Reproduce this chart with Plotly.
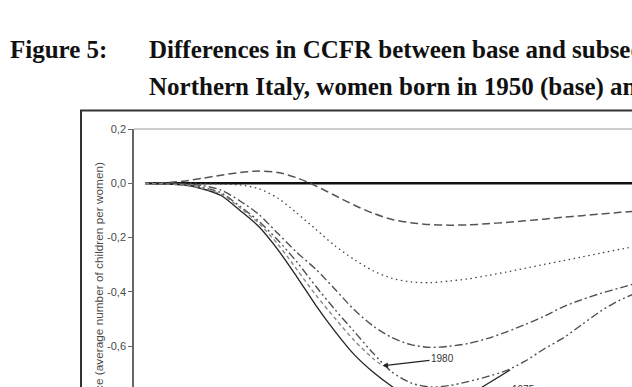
import plotly.graph_objects as go

# ---------------- data ----------------
ages = [15, 16, 17, 18, 19, 20, 21, 22, 23, 24, 25, 26, 27, 28, 29, 30,
        31, 32, 33, 34, 35, 36, 37, 38, 39, 40, 41]

base_1950 = [0.0] * len(ages)

c1955 = [0.0, 0.002, 0.008, 0.018, 0.030, 0.040, 0.045, 0.040, 0.020, -0.010,
         -0.045, -0.080, -0.110, -0.133, -0.145, -0.152, -0.154, -0.153, -0.149,
         -0.144, -0.138, -0.132, -0.125, -0.119, -0.113, -0.107, -0.102]

c1960 = [0.0, 0.0, 0.0, -0.001, -0.003, -0.006, -0.020, -0.055, -0.110, -0.170,
         -0.230, -0.280, -0.322, -0.350, -0.363, -0.366, -0.360, -0.352, -0.340,
         -0.327, -0.313, -0.299, -0.285, -0.271, -0.257, -0.243, -0.229]

c1965 = [0.0, 0.0, -0.002, -0.008, -0.025, -0.065, -0.115, -0.185, -0.255, -0.317,
         -0.390, -0.465, -0.525, -0.568, -0.594, -0.604, -0.600, -0.590, -0.572,
         -0.548, -0.520, -0.490, -0.455, -0.428, -0.405, -0.385, -0.365]

c1970 = [0.0, -0.001, -0.004, -0.015, -0.035, -0.085, -0.140, -0.210, -0.290, -0.380,
         -0.465, -0.545, -0.625, -0.695, -0.735, -0.750, -0.745, -0.730, -0.712,
         -0.690, -0.655, -0.610, -0.570, -0.520, -0.470, -0.430, -0.400]

ages_1975 = [15, 16, 17, 18, 19, 20, 21, 22, 23, 24, 25, 26, 27, 28, 29, 30]
c1975 = [0.0, -0.002, -0.006, -0.020, -0.045, -0.100, -0.160, -0.245, -0.345,
         -0.450, -0.545, -0.630, -0.695, -0.748, -0.790, -0.820]

ages_1980 = [15, 16, 17, 18, 19, 20, 21, 22, 23, 24, 25, 26, 27, 27.5]
c1980 = [0.0, -0.002, -0.006, -0.018, -0.040, -0.090, -0.148, -0.225, -0.318,
         -0.412, -0.497, -0.578, -0.645, -0.672]

ytick_vals = [0.2, 0.0, -0.2, -0.4, -0.6]
ytick_text = ["0,2", "0,0", "-0,2", "-0,4", "-0,6"]

title_1 = "Figure 5:"
title_2a = "Differences in CCFR between base and subsequent cohorts,"
title_2b = "Northern Italy, women born in 1950 (base) and later"
ytitle = "Difference (average number of children per women)"

# ---------------- layout geometry ----------------
W, H = 632, 387
ML, MT = 134, 129
PW, PH = W - ML, H - MT


def px_x(px):
    return (px - ML) / PW


def px_y(py):
    return (H - py) / PH


fig = go.Figure()

series = [
    (ages, base_1950, dict(color="#111111", width=2.6, dash="solid")),
    (ages, c1955, dict(color="#555555", width=1.5, dash="8px,4px")),
    (ages, c1960, dict(color="#444444", width=1.3, dash="1.5px,3.5px")),
    (ages, c1965, dict(color="#505050", width=1.4, dash="8px,3px,2px,3px")),
    (ages, c1970, dict(color="#505050", width=1.4, dash="8px,3px,2px,3px,2px,3px")),
    (ages_1975, c1975, dict(color="#222222", width=1.3, dash="solid")),
    (ages_1980, c1980, dict(color="#888888", width=1.4, dash="4px,3px")),
]
names = ["1950", "1955", "1960", "1965", "1970", "1975", "1980"]
for (xs, ys, ln), nm in zip(series, names):
    fig.add_trace(go.Scatter(x=xs, y=ys, mode="lines", name=nm,
                             line=dict(shape="spline", smoothing=0.8, **ln),
                             showlegend=False, hoverinfo="skip"))

fig.update_layout(
    width=W, height=H,
    margin=dict(l=ML, r=0, t=MT, b=0, pad=0),
    paper_bgcolor="white", plot_bgcolor="white",
    font=dict(family="Liberation Sans, Arial", color="#444444"),
    xaxis=dict(range=[14.421, 40.632], showgrid=False, zeroline=False,
               showticklabels=False, ticks="", showline=False),
    yaxis=dict(range=[-0.75, 0.2], showgrid=False, zeroline=False,
               tickvals=ytick_vals, ticktext=ytick_text, ticks="outside",
               ticklen=4, tickcolor="#666666", tickwidth=1,
               tickfont=dict(size=11, color="#4a4a4a", family="Liberation Sans, Arial"),
               showline=True, linecolor="#666666", linewidth=1.5),
)

# outer frame and top border of plotting area
fig.add_shape(type="rect", xref="paper", yref="paper",
              x0=px_x(81), y0=px_y(400), x1=px_x(650), y1=px_y(110.5),
              line=dict(color="#333333", width=2), fillcolor="rgba(0,0,0,0)", layer="above")
fig.add_shape(type="line", xref="paper", yref="paper",
              x0=0, y0=1, x1=px_x(640), y1=1,
              line=dict(color="#999999", width=1))

# arrow line for the 1975 label (continues below the visible area)
fig.add_shape(type="line", xref="paper", yref="paper",
              x0=px_x(510), y0=px_y(370), x1=px_x(466), y1=px_y(397),
              line=dict(color="#222222", width=1.2))

TFONT = dict(family="Liberation Serif, Times New Roman", size=25, color="#111111")
ann = []
ann.append(dict(text="<b>" + title_1 + "</b>", xref="paper", yref="paper",
                x=px_x(8), y=px_y(50), xanchor="left", yanchor="middle",
                showarrow=False, font=TFONT))
ann.append(dict(text="<b>" + title_2a + "</b>", xref="paper", yref="paper",
                x=px_x(147), y=px_y(50), xanchor="left", yanchor="middle",
                showarrow=False, font=TFONT))
ann.append(dict(text="<b>" + title_2b + "</b>", xref="paper", yref="paper",
                x=px_x(147), y=px_y(87), xanchor="left", yanchor="middle",
                showarrow=False, font=TFONT))
ann.append(dict(text=ytitle, xref="paper", yref="paper",
                x=px_x(99), y=px_y(160), xanchor="center", yanchor="top",
                textangle=-90, showarrow=False,
                font=dict(size=11.8, color="#4a4a4a")))
# 1980 label with arrow pointing at the end of the 1980 curve
ann.append(dict(text="1980", x=ages_1980[-1], y=c1980[-1], xref="x", yref="y",
                ax=60, ay=-7, showarrow=True, arrowhead=2, arrowsize=1,
                arrowwidth=1.1, arrowcolor="#222222", standoff=0,
                font=dict(size=10, color="#333333")))
ann.append(dict(text="1975", xref="paper", yref="paper",
                x=px_x(510), y=px_y(389), xanchor="left", yanchor="middle",
                showarrow=False, font=dict(size=10, color="#333333")))
fig.update_layout(annotations=ann)

fig.write_html("out.html")
